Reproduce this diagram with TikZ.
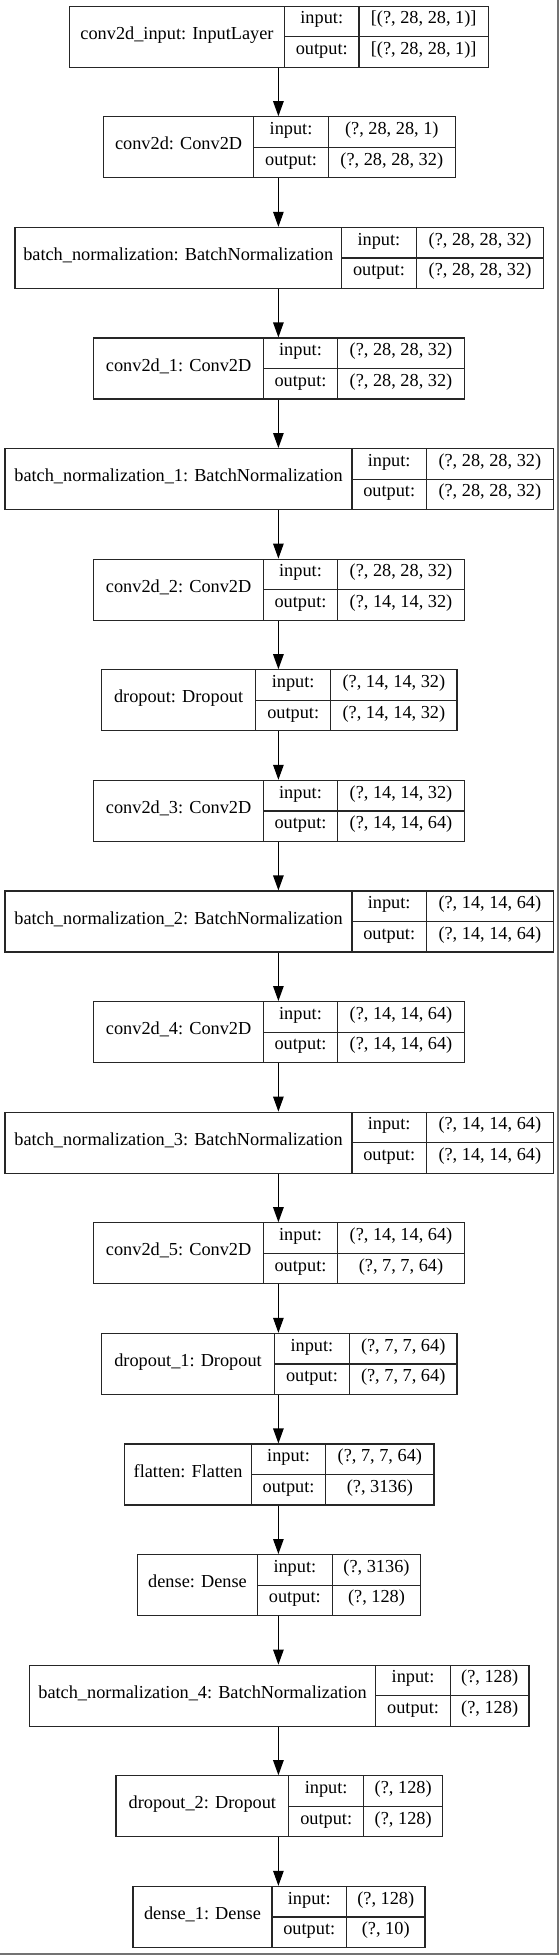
\documentclass[tikz,border=0pt]{standalone}
\usepackage{fontspec}
\setmainfont{Liberation Serif}
\usetikzlibrary{arrows.meta}
\tikzset{
  box/.style={draw=black!85, line width=1.2pt, fill=white, inner sep=0pt, rectangle},
  cellline/.style={draw=black!85, line width=1.2pt},
  txt/.style={inner sep=0pt, font=\fontsize{18.3}{22}\selectfont, text height=0.72em, text depth=0.22em},
  arr/.style={draw=black, line width=1.2pt, -{Triangle[length=15pt,width=10.5pt]}},
  frameline/.style={draw=black!55, line width=1.6pt}
}
% #1 name, #2 label, #3 input value, #4 output value, #5 index, #6 left, #7 div1, #8 div2, #9 right
\newcommand\kerlayer[9]{%
  \pgfmathsetmacro\lytop{6.2+110.6*#5}%
  \pgfmathsetmacro\lymid{\lytop+30.5}%
  \pgfmathsetmacro\lybot{\lytop+61}%
  \pgfmathsetmacro\lyra{\lytop+15.25}%
  \pgfmathsetmacro\lyrb{\lytop+45.75}%
  \pgfmathsetmacro\lycx{(#6+#9)/2}%
  \pgfmathsetmacro\lyw{#9-#6}%
  \node[box, minimum width=\lyw pt, minimum height=61pt] (#1) at (\lycx,\lymid) {};
  \draw[cellline] (#7,\lytop) -- (#7,\lybot);
  \draw[cellline] (#8,\lytop) -- (#8,\lybot);
  \draw[cellline] (#7,\lymid) -- (#9,\lymid);
  \node[txt] (#1-label) at ({(#6+#7)/2},\lymid) {#2};
  \node[txt] (#1-ik) at ({(#7+#8)/2},\lyra) {input:};
  \node[txt] (#1-ok) at ({(#7+#8)/2},\lyrb) {output:};
  \node[txt] (#1-iv) at ({(#8+#9)/2},\lyra) {#3};
  \node[txt] (#1-ov) at ({(#8+#9)/2},\lyrb) {#4};
}
\begin{document}
\begin{tikzpicture}[x=1pt,y=-1pt]
\useasboundingbox (0,0) rectangle (559,1955);
\fill[white] (0,0) rectangle (559,1955);
\coordinate (ax) at (278.4,0);
\coordinate (fr1) at (558,0);
\coordinate (fr2) at (558,1954);
\coordinate (fr3) at (0,1954);
\draw[frameline] (fr1) -- (fr2) -- (fr3);

\kerlayer{in0}{conv2d\_input: InputLayer}{[(?, 28, 28, 1)]}{[(?, 28, 28, 1)]}{0}{69.5}{284.5}{359}{488.4}
\kerlayer{c0}{conv2d: Conv2D}{(?, 28, 28, 1)}{(?, 28, 28, 32)}{1}{103.4}{253.8}{328.3}{455.3}
\kerlayer{bn0}{batch\_normalization: BatchNormalization}{(?, 28, 28, 32)}{(?, 28, 28, 32)}{2}{15}{341.5}{416.4}{543.7}
\kerlayer{c1}{conv2d\_1: Conv2D}{(?, 28, 28, 32)}{(?, 28, 28, 32)}{3}{93.8}{263.5}{337.5}{464.5}
\kerlayer{bn1}{batch\_normalization\_1: BatchNormalization}{(?, 28, 28, 32)}{(?, 28, 28, 32)}{4}{5}{352}{426.4}{553.3}
\kerlayer{c2}{conv2d\_2: Conv2D}{(?, 28, 28, 32)}{(?, 14, 14, 32)}{5}{93.8}{263.5}{337.5}{464.5}
\kerlayer{do0}{dropout: Dropout}{(?, 14, 14, 32)}{(?, 14, 14, 32)}{6}{101.6}{255.6}{330.8}{457}
\kerlayer{c3}{conv2d\_3: Conv2D}{(?, 14, 14, 32)}{(?, 14, 14, 64)}{7}{93.8}{263.5}{337.5}{464.5}
\kerlayer{bn2}{batch\_normalization\_2: BatchNormalization}{(?, 14, 14, 64)}{(?, 14, 14, 64)}{8}{5}{352}{426.4}{553.3}
\kerlayer{c4}{conv2d\_4: Conv2D}{(?, 14, 14, 64)}{(?, 14, 14, 64)}{9}{93.8}{263.5}{337.5}{464.5}
\kerlayer{bn3}{batch\_normalization\_3: BatchNormalization}{(?, 14, 14, 64)}{(?, 14, 14, 64)}{10}{5}{352}{426.4}{553.3}
\kerlayer{c5}{conv2d\_5: Conv2D}{(?, 14, 14, 64)}{(?, 7, 7, 64)}{11}{93.8}{263.5}{337.5}{464.5}
\kerlayer{do1}{dropout\_1: Dropout}{(?, 7, 7, 64)}{(?, 7, 7, 64)}{12}{101.6}{274.5}{349.4}{457}
\kerlayer{fl}{flatten: Flatten}{(?, 7, 7, 64)}{(?, 3136)}{13}{124.8}{251.3}{325.8}{433.9}
\kerlayer{de0}{dense: Dense}{(?, 3136)}{(?, 128)}{14}{137.6}{257.4}{332.3}{420.7}
\kerlayer{bn4}{batch\_normalization\_4: BatchNormalization}{(?, 128)}{(?, 128)}{15}{29.2}{375.8}{450.3}{529}
\kerlayer{do2}{dropout\_2: Dropout}{(?, 128)}{(?, 128)}{16}{115.9}{288.8}{363.6}{442.8}
\kerlayer{de1}{dense\_1: Dense}{(?, 128)}{(?, 10)}{17}{133}{272}{346.5}{425}

\draw[arr] (in0.south -| ax) -- (c0.north -| ax);
\draw[arr] (c0.south -| ax) -- (bn0.north -| ax);
\draw[arr] (bn0.south -| ax) -- (c1.north -| ax);
\draw[arr] (c1.south -| ax) -- (bn1.north -| ax);
\draw[arr] (bn1.south -| ax) -- (c2.north -| ax);
\draw[arr] (c2.south -| ax) -- (do0.north -| ax);
\draw[arr] (do0.south -| ax) -- (c3.north -| ax);
\draw[arr] (c3.south -| ax) -- (bn2.north -| ax);
\draw[arr] (bn2.south -| ax) -- (c4.north -| ax);
\draw[arr] (c4.south -| ax) -- (bn3.north -| ax);
\draw[arr] (bn3.south -| ax) -- (c5.north -| ax);
\draw[arr] (c5.south -| ax) -- (do1.north -| ax);
\draw[arr] (do1.south -| ax) -- (fl.north -| ax);
\draw[arr] (fl.south -| ax) -- (de0.north -| ax);
\draw[arr] (de0.south -| ax) -- (bn4.north -| ax);
\draw[arr] (bn4.south -| ax) -- (do2.north -| ax);
\draw[arr] (do2.south -| ax) -- (de1.north -| ax);
\end{tikzpicture}
\end{document}
